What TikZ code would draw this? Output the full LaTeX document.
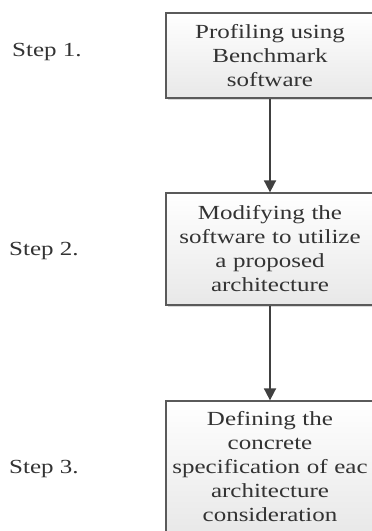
\documentclass[tikz,border=0pt]{standalone}
\usepackage{fontspec}
\setmainfont{Liberation Serif}[FakeStretch=1.25]
\usetikzlibrary{arrows.meta,shadows}
\definecolor{inkgray}{HTML}{333333}
\definecolor{framegray}{HTML}{5A5A5A}
\definecolor{arrowgray}{HTML}{404040}
\tikzset{
  stepbox/.style={
    draw=framegray, line width=1.3pt, rectangle,
    top color=white, bottom color=black!9,
    drop shadow={shadow xshift=1.5pt, shadow yshift=-1.8pt, opacity=0.25, fill=black!60},
    minimum width=208pt, text width=200pt, align=center, inner sep=0pt,
    text=inkgray, font=\fontsize{20}{24}\selectfont
  },
  steplabel/.style={anchor=base west, inner sep=0pt, text=inkgray,
    font=\fontsize{20}{24}\selectfont},
  flow/.style={draw=arrowgray, line width=1.8pt,
    -{Triangle[width=12pt,length=12pt]}}
}
\begin{document}
\begin{tikzpicture}[x=1pt,y=1pt]
  \useasboundingbox (0,0) rectangle (372,-531);

  % process boxes
  \node[stepbox, minimum height=85pt]  (b1) at (270,-55.5)
    {Profiling using\\Benchmark\\software};
  \node[stepbox, minimum height=112pt] (b2) at (270,-249)
    {Modifying the\\software to utilize\\a proposed\\architecture};
  \node[stepbox, minimum height=132pt] (b3) at (270,-467)
    {Defining the\\concrete\\specification of eac\\architecture\\consideration};

  % step labels
  \node[steplabel] (s1) at (12,-56.7) {Step 1.};
  \node[steplabel] (s2) at (9,-255)   {Step 2.};
  \node[steplabel] (s3) at (9,-473)   {Step 3.};

  % connectors
  \draw[flow] (b1.south) -- (b2.north);
  \draw[flow] (b2.south) -- (b3.north);
\end{tikzpicture}
\end{document}
